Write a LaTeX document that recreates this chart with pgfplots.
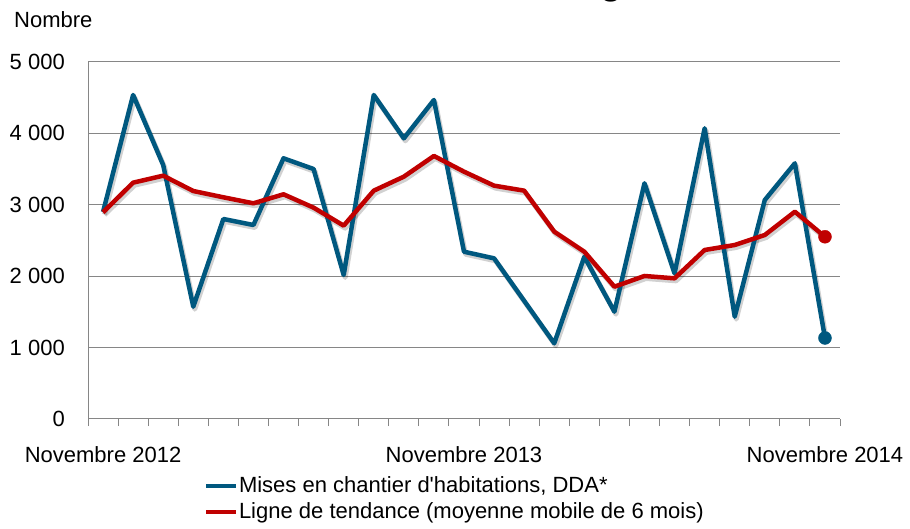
\documentclass[border=0pt]{standalone}
\usepackage{fontspec}
\setmainfont{Liberation Sans}[Ligatures=TeXOff]
\usepackage{pgfplots}
\usepackage{pgfplotstable}
\pgfplotsset{compat=1.18}
\definecolor{cblue}{HTML}{00587F}
\definecolor{cred}{HTML}{C00000}
\definecolor{cgrid}{HTML}{868686}
\pgfplotstableread{
x blue red
0 2900 2895
1 4538 3310
2 3557 3408
3 1573 3193
4 2801 3105
5 2717 3021
6 3651 3147
7 3501 2960
8 2017 2708
9 4538 3198
10 3931 3394
11 4468 3684
12 2343 3464
13 2250 3268
14 1655 3198
15 1060 2624
16 2273 2343
17 1503 1853
18 3301 2003
19 2040 1970
20 4071 2367
21 1433 2437
22 3067 2577
23 3581 2903
24 1135 2552
}\datatable
\begin{document}
\fontsize{22bp}{26bp}\selectfont
\begin{tikzpicture}
\useasboundingbox (0,0) rectangle (910bp,529bp);
\node[anchor=base west, inner sep=0] at (14bp,501.7bp) {Nombre};
\node[anchor=base, inner sep=0, font=\bfseries\fontsize{36bp}{40bp}\selectfont] at (611bp,534.5bp) {g};
\begin{axis}[
  at={(88bp,110bp)}, anchor=south west,
  scale only axis, width=752bp, height=357bp,
  xmin=-0.5, xmax=24.5, ymin=0, ymax=5000,
  axis x line*=bottom, axis y line*=left,
  axis line style={cgrid, line width=1bp, -},
  ytick={0,1000,...,5000},
  yticklabels={0,1 000,2 000,3 000,4 000,5 000},
  ymajorgrids, grid style={cgrid, line width=1bp},
  xtick={0,12,24}, xticklabels={Novembre 2012,Novembre 2013,Novembre 2014},
  minor xtick={-0.5,0.5,...,24.5},
  major tick length=0pt, minor tick length=7bp,
  tick align=outside,
  minor tick style={cgrid, line width=1bp},
  yticklabel style={anchor=east, inner sep=0pt, xshift=-23bp},
  xticklabel style={anchor=base, inner sep=0pt, yshift=-43bp},
  legend style={at={(0.154,-0.158)}, anchor=north west, draw=none, fill=none,
    inner sep=0pt, row sep=5bp, nodes={inner sep=1bp, anchor=west}},
  legend cell align=left,
  legend image code/.code={\draw[#1, line width=4bp] (0bp,0bp) -- (30bp,0bp);},
]
\addplot[black, opacity=0.18, line width=5bp, line join=round, forget plot,
  transform canvas={shift={(1.5bp,-2.5bp)}}] table[x=x,y=blue]{\datatable};
\addplot[black, opacity=0.18, line width=5bp, line join=round, forget plot,
  transform canvas={shift={(1.5bp,-2.5bp)}}] table[x=x,y=red]{\datatable};
\addplot[cblue, line width=4.5bp, line join=round] table[x=x,y=blue]{\datatable};
\addlegendentry{Mises en chantier d'habitations, DDA*}
\addplot[cred, line width=4.5bp, line join=round] table[x=x,y=red]{\datatable};
\addlegendentry{Ligne de tendance (moyenne mobile de 6 mois)}
\addplot[cblue, only marks, mark=*, mark size=6.5bp, forget plot] coordinates {(24,1135)};
\addplot[cred, only marks, mark=*, mark size=6.5bp, forget plot] coordinates {(24,2552)};
\node[anchor=west, inner sep=0] at (axis cs:24,2552) [xshift=17bp, yshift=19bp] {2 552};
\node[anchor=west, inner sep=0] at (axis cs:24,1135) [xshift=16bp, yshift=20bp] {1 135};
\end{axis}
\end{tikzpicture}
\end{document}
